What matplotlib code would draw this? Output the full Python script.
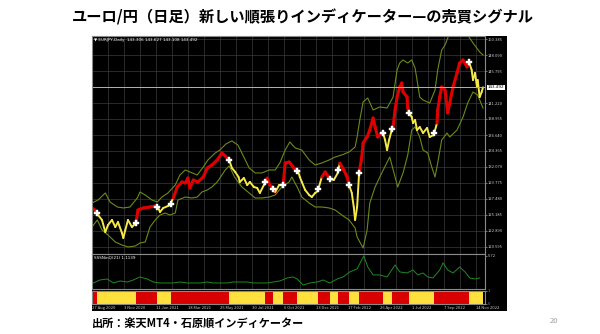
import numpy as np
import matplotlib
matplotlib.use("Agg")
import matplotlib.pyplot as plt
from matplotlib.collections import LineCollection
import matplotlib.transforms as mtransforms

plt.rcParams['font.family'] = ['Noto Sans CJK JP', 'DejaVu Sans']

# ─────────────────────────────────────────────
# Data (x = daily bar index)
# ─────────────────────────────────────────────
price_idx = [0, 4, 9, 15, 20, 24, 30, 35, 39, 45, 47, 50, 54, 60, 66, 69, 77, 87, 95, 99,
             102, 107, 114, 117, 122, 128, 135, 140, 144, 147, 152, 159, 167, 173, 180, 188,
             195, 200, 206, 210, 215, 220, 222, 228, 233, 237, 243, 248, 252, 258, 263, 267,
             270, 275, 281, 287, 290, 296, 303, 309, 312, 315, 320, 326, 330, 335, 339, 345,
             350, 356, 359, 363, 369, 372, 378, 383, 386, 390, 393, 395, 398, 401, 405, 407,
             413, 417, 422, 425, 429, 435, 437, 440, 443, 446, 450, 452, 455, 458, 462, 465,
             467, 473, 474, 476, 480, 482, 485, 488, 492, 497, 503, 507, 513, 518, 519, 522,
             525, 530, 534, 537, 542, 548, 552, 557, 563, 566, 570, 572, 575, 578, 579, 582,
             585, 587]
price = [126.19, 125.90, 125.18, 124.47, 122.75, 123.75, 124.47, 123.46, 124.18, 122.60,
         121.89, 123.03, 124.47, 123.46, 124.04, 125.90, 126.19, 126.33, 126.47, 126.33,
         125.61, 126.19, 126.47, 126.62, 127.62, 129.20, 129.92, 129.77, 130.49, 129.06,
         130.20, 129.92, 130.63, 131.92, 132.35, 133.07, 134.07, 133.64, 133.07, 131.92,
         131.35, 130.63, 129.92, 130.49, 129.48, 129.92, 129.20, 129.06, 128.34, 129.48,
         130.49, 129.48, 129.20, 128.48, 129.48, 129.48, 132.64, 132.78, 131.92, 131.49,
         130.63, 129.92, 128.77, 128.05, 127.76, 128.34, 128.63, 130.63, 131.35, 130.49,
         130.35, 130.20, 131.21, 132.64, 131.64, 130.63, 129.48, 128.34, 126.33, 124.47,
         126.33, 131.21, 133.50, 135.51, 136.37, 137.37, 139.09, 137.80, 136.37, 136.94,
         136.94, 135.94, 134.50, 135.94, 137.37, 137.80, 140.24, 142.10, 143.54, 144.11,
         142.82, 142.10, 140.53, 139.81, 139.24, 138.37, 138.80, 137.37, 137.80, 136.94,
         137.66, 136.37, 136.66, 138.37, 140.24, 142.10, 143.54, 143.11, 139.81, 141.24,
         143.54, 145.55, 146.98, 147.41, 146.41, 147.12, 145.98, 144.54, 145.55, 143.54,
         144.54, 142.10, 142.82, 143.49]

upper_idx = [0, 9, 20, 27, 38, 47, 57, 68, 72, 80, 90, 98, 105, 114, 125, 132, 140, 147,
             158, 167, 174, 185, 192, 201, 210, 219, 225, 236, 245, 255, 266, 275, 282, 290,
             297, 305, 315, 326, 335, 345, 356, 365, 375, 386, 395, 398, 402, 407, 414, 422,
             432, 443, 452, 458, 462, 467, 474, 480, 485, 488, 492, 497, 507, 515, 519, 525,
             530, 537, 545, 552, 560, 564, 572, 582, 587]
upper = [126.90, 127.33, 128.34, 127.05, 126.33, 126.19, 126.33, 127.62, 128.48, 128.05,
         127.33, 127.05, 127.76, 128.34, 129.48, 130.92, 131.64, 131.35, 130.92, 132.07,
         133.07, 134.07, 134.50, 135.37, 135.80, 135.22, 134.07, 131.92, 131.21, 131.21,
         131.64, 131.64, 132.64, 134.50, 135.65, 134.80, 134.50, 133.07, 132.35, 132.64,
         133.07, 133.50, 133.79, 134.22, 134.94, 136.37, 138.80, 141.39, 141.96, 140.24,
         140.67, 140.53, 142.10, 145.98, 146.98, 147.41, 146.98, 147.41, 146.26, 144.54,
         142.10, 141.67, 141.24, 143.11, 145.98, 148.85, 149.56, 151.28, 152.29, 152.57,
         152.00, 150.99, 149.85, 148.56, 148.13]

lower_idx = [0, 8, 15, 24, 35, 45, 54, 65, 72, 80, 87, 95, 102, 110, 117, 125, 129, 140,
             150, 158, 165, 173, 180, 188, 195, 200, 206, 214, 225, 236, 245, 255, 266, 275,
             285, 296, 300, 308, 315, 326, 335, 345, 356, 365, 375, 386, 395, 398, 407, 413,
             417, 425, 435, 447, 455, 459, 467, 474, 480, 485, 492, 497, 504, 510, 515, 519,
             525, 533, 537, 548, 557, 564, 572, 579, 587]
lower = [123.46, 124.47, 123.03, 122.32, 121.31, 120.88, 120.60, 120.74, 121.17, 121.31,
         123.46, 124.47, 125.18, 125.47, 125.18, 125.47, 127.33, 127.76, 127.62, 127.76,
         128.48, 128.77, 129.20, 129.92, 130.92, 131.64, 132.21, 130.63, 129.20, 128.34,
         127.62, 127.62, 127.76, 128.05, 129.20, 129.92, 130.63, 129.20, 127.76, 126.90,
         126.33, 126.33, 126.19, 125.90, 125.18, 124.47, 123.32, 122.03, 120.45, 123.03,
         126.90, 129.20, 131.21, 133.50, 130.63, 129.20, 131.21, 133.79, 137.37, 137.80,
         136.37, 134.50, 134.07, 132.07, 130.63, 132.64, 135.94, 136.94, 136.37, 137.37,
         139.24, 141.24, 142.82, 142.39, 140.53]

# trend switches (bar index) -- first segment is red (up-trend)
switch_idx = [0, 7, 66, 98, 118, 206, 260, 272, 287, 308, 340, 358, 370, 386, 401, 437,
              451, 476, 514, 566, 587]

ind_idx = [2, 12, 23, 32, 42, 53, 62, 72, 83, 92, 102, 113, 122, 132, 143, 152, 162, 173,
           182, 192, 203, 212, 222, 233, 242, 252, 263, 272, 282, 293, 302, 308, 317, 327,
           338, 347, 357, 368, 377, 387, 398, 408, 414, 422, 432, 443, 455, 462, 473, 482,
           489, 497, 504, 512, 522, 527, 534, 542, 552, 560, 567, 575, 582]
ind_val = [1.04, 1.56, 1.73, 1.04, 1.39, 1.21, 1.56, 2.08, 1.73, 1.21, 1.04, 1.04, 1.04,
           1.21, 1.04, 1.04, 1.04, 1.21, 1.04, 1.04, 1.04, 1.21, 1.21, 1.21, 1.04, 1.04,
           1.04, 1.21, 1.39, 1.91, 2.08, 1.73, 0.69, 1.04, 1.21, 1.56, 1.04, 1.73, 2.08,
           2.95, 3.47, 5.72, 3.81, 2.43, 2.43, 2.08, 4.16, 2.95, 2.77, 3.29, 2.43, 2.77,
           2.08, 1.91, 3.29, 4.51, 3.29, 2.77, 3.81, 2.95, 1.91, 1.73, 1.91]

price_ticks = [150.385, 148.090, 145.795, 141.220, 138.955, 136.640, 134.365, 132.070,
               129.775, 127.480, 125.185, 122.890, 120.595]
last_price = 143.492

date_ticks = [0, 48, 96, 144, 192, 240, 288, 336, 384, 432, 480, 528, 576]
date_labels = ['27 Aug 2020', '3 Nov 2020', '11 Jan 2021', '18 Mar 2021', '25 May 2021',
               '30 Jul 2021', '6 Oct 2021', '13 Dec 2021', '17 Feb 2022', '26 Apr 2022',
               '1 Jul 2022', '7 Sep 2022', '14 Nov 2022']

RED = '#e00000'
YEL = '#f5e94a'
BAR_RED = '#d80000'
BAR_YEL = '#ffe03c'
BAND = '#6c8a1c'
GRID = '#3a3a3a'
SPINE = '#8a8a8a'
TXT = '#c8c8c8'

# ─────────────────────────────────────────────
# Figure / layout
# ─────────────────────────────────────────────
fig = plt.figure(figsize=(6.0, 3.34), dpi=100)
fig.patch.set_facecolor('white')

W, H = 600.0, 334.0
def box(x0, y0, x1, y1):
    return [x0 / W, 1 - y1 / H, (x1 - x0) / W, (y1 - y0) / H]

bg = fig.add_axes(box(92, 36, 507, 311))
bg.set_facecolor('black')
bg.set_xticks([]); bg.set_yticks([])
for s in bg.spines.values():
    s.set_visible(False)

ax = fig.add_axes(box(92, 36, 485, 254))
axi = fig.add_axes(box(92, 254, 485, 289))
axb = fig.add_axes(box(92, 290.5, 485, 303.5))

for a in (ax, axi, axb):
    a.set_facecolor('black')
    for s in a.spines.values():
        s.set_color(SPINE)
        s.set_linewidth(0.8)
    a.set_xlim(0, 590)
    a.tick_params(colors=TXT, labelsize=3, length=1.2, width=0.4, pad=1)

# ── main price panel ──
ax.set_ylim(119.59, 150.85)
ax.set_xticks(np.arange(24, 590, 24))
ax.set_xticklabels([])
ax.tick_params(axis='x', length=0)
ax.yaxis.tick_right()
ax.set_yticks(price_ticks)
ax.set_yticklabels([f'{v:.3f}' for v in price_ticks])
ax.grid(True, color=GRID, lw=0.5)
ax.set_axisbelow(True)

ax.plot(upper_idx, upper, color=BAND, lw=0.8)
ax.plot(lower_idx, lower, color=BAND, lw=0.8)

# price coloured by trend state
seg_state = np.searchsorted(switch_idx, price_idx[:-1], side='right') - 1
pts = np.column_stack([price_idx, price])
segs = np.stack([pts[:-1], pts[1:]], axis=1)
cols = [RED if st % 2 == 0 else YEL for st in seg_state]
lws = [2.2 if st % 2 == 0 else 1.4 for st in seg_state]
ax.add_collection(LineCollection(segs, colors=cols, linewidths=lws, capstyle='round'))

# signal arrows at each switch
sig_x = switch_idx[1:-1]
sig_y = np.interp(sig_x, price_idx, price)
ax.plot(sig_x, sig_y, ls='none', marker='P', ms=4.2, mfc='white', mec='white', mew=0.3)

ax.axhline(last_price, color='#b4b4b4', lw=0.7)
trans = mtransforms.blended_transform_factory(ax.transAxes, ax.transData)
ax.text(1.006, last_price, f'{last_price:.3f}', transform=trans, fontsize=3,
        color='black', va='center', ha='left', family='DejaVu Sans',
        bbox=dict(fc='white', ec='none', pad=0.4))
ax.text(0.006, 0.993, '▼ EURJPY,Daily  143.306 143.627 143.108 143.492', transform=ax.transAxes,
        fontsize=3, color='white', va='top', ha='left', family='DejaVu Sans')

# ── indicator panel ──
axi.set_ylim(0, 6.05)
axi.plot(ind_idx, ind_val, color='#1f8a1f', lw=0.7)
axi.set_xticks(np.arange(24, 590, 24))
axi.set_xticklabels([])
axi.tick_params(axis='x', length=0)
axi.yaxis.tick_right()
axi.set_yticks([5.72])
axi.set_yticklabels(['5.72'])
axi.grid(True, axis='x', color=GRID, lw=0.5)
axi.text(0.006, 0.95, 'SSSNinQ(21) 1.1139', transform=axi.transAxes, fontsize=3,
         color='white', va='top', ha='left', family='DejaVu Sans')

# ── trend bar panel ──
starts = np.array(switch_idx[:-1])
widths = np.diff(switch_idx)
bar_cols = [BAR_RED if i % 2 == 0 else BAR_YEL for i in range(len(starts))]
axb.bar(starts, 1, width=widths, align='edge', color=bar_cols, linewidth=0)
axb.set_ylim(0, 1)
axb.yaxis.tick_right()
axb.set_yticks([0, 1])
axb.set_yticklabels(['0', '1'], color='#6a7ad0')
axb.set_xticks(date_ticks)
axb.set_xticklabels(date_labels, ha='left')
axb.tick_params(axis='x', length=0, pad=1.5)

# ─────────────────────────────────────────────
# Slide texts
# ─────────────────────────────────────────────
fig.text(0.504, 0.949, 'ユーロ/円（日足）新しい順張りインディケーター—の売買シグナル',
         fontsize=11, fontweight='bold', ha='center', va='center', color='black')
fig.text(92 / W, 1 - 323 / H, '出所：楽天MT4・石原順インディケーター',
         fontsize=8, fontweight='bold', ha='left', va='center', color='black')
fig.text(550 / W, 1 - 321 / H, '20', fontsize=5.5, color='#a0a0a0', ha='left', va='center')

fig.savefig('out.png', dpi=100, facecolor='white')
